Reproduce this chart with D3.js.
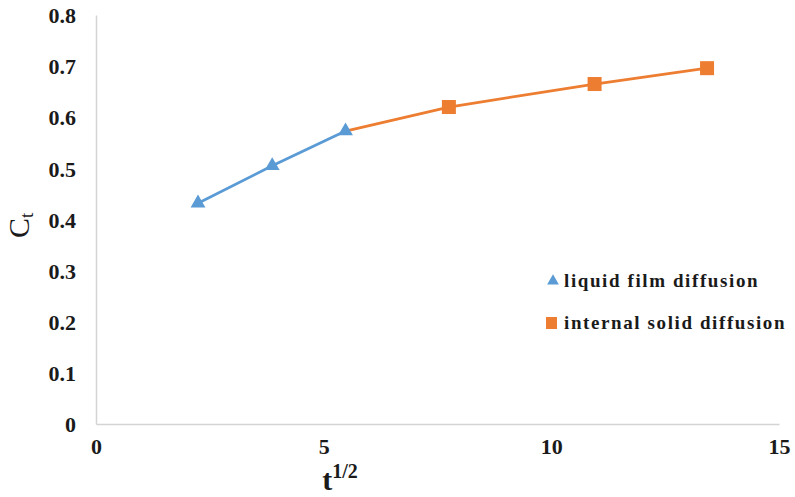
<!DOCTYPE html>
<html>
<head>
<meta charset="utf-8">
<script src="https://cdn.jsdelivr.net/npm/d3@7"></script>
<style>
body{margin:0;background:#fff;}
svg{display:block;}
</style>
</head>
<body>
<svg id="chart" width="795" height="497"></svg>
<script>
const liquidX = [2.24, 3.87, 5.48];
const liquidY = [0.432, 0.505, 0.573];
const solidX = [5.48, 7.75, 10.95, 13.42];
const solidY = [0.573, 0.62, 0.665, 0.696];
const solidMarkerFrom = 1; // first point of solid series has no marker
const xTicks = [0, 5, 10, 15];
const yTicks = [0, 0.1, 0.2, 0.3, 0.4, 0.5, 0.6, 0.7, 0.8];
const seriesNames = ["liquid film diffusion", "internal solid diffusion"];
const colors = ["#5b9bd5", "#ed7d31"];

const svg = d3.select("#chart");
const m = {left: 96, right: 779, top: 15, bottom: 424};
const x = d3.scaleLinear().domain([0, 15]).range([m.left, m.right]);
const y = d3.scaleLinear().domain([0, 0.8]).range([m.bottom, m.top]);
const font = "'Liberation Serif','Times New Roman',serif";

// axes
const xAxis = svg.append("g").attr("transform", `translate(0,${m.bottom})`)
  .call(d3.axisBottom(x).tickValues(xTicks).tickSize(0).tickPadding(14).tickFormat(d3.format("d")));
const yAxis = svg.append("g").attr("transform", `translate(${m.left},0)`)
  .call(d3.axisLeft(y).tickValues(yTicks).tickSize(0).tickPadding(20).tickFormat(d => d === 0 ? "0" : d3.format(".1f")(d)));
[xAxis, yAxis].forEach(g => {
  g.select(".domain").attr("stroke", "#d4d4d4").attr("stroke-width", 1.5);
  g.selectAll("text").attr("font-family", font).attr("font-weight", "bold")
    .attr("font-size", 22).attr("fill", "#1a1a1a");
});
yAxis.selectAll("text").attr("dy", "0.35em");

// lines
const line = d3.line().x(d => x(d[0])).y(d => y(d[1]));
const liquid = liquidX.map((v, i) => [v, liquidY[i]]);
const solid = solidX.map((v, i) => [v, solidY[i]]);
svg.append("path").datum(liquid).attr("d", line).attr("fill", "none")
  .attr("stroke", colors[0]).attr("stroke-width", 2.8);
svg.append("path").datum(solid).attr("d", line).attr("fill", "none")
  .attr("stroke", colors[1]).attr("stroke-width", 2.8);

const tri = d3.symbol().type(d3.symbolTriangle).size(95);
svg.selectAll(".tri").data(liquid).join("path")
  .attr("transform", d => `translate(${x(d[0])},${y(d[1])})`)
  .attr("d", tri).attr("fill", colors[0]);
svg.selectAll(".sq").data(solid.slice(solidMarkerFrom)).join("rect")
  .attr("x", d => x(d[0]) - 7).attr("y", d => y(d[1]) - 7)
  .attr("width", 14).attr("height", 14).attr("fill", colors[1]);

// legend
const leg = svg.append("g");
leg.append("path").attr("transform", "translate(553,281)")
  .attr("d", d3.symbol().type(d3.symbolTriangle).size(60)).attr("fill", colors[0]);
leg.append("rect").attr("x", 546).attr("y", 317).attr("width", 11).attr("height", 12).attr("fill", colors[1]);
leg.append("text").attr("x", 564).attr("y", 287).text(seriesNames[0]);
leg.append("text").attr("x", 564).attr("y", 329).text(seriesNames[1]);
leg.selectAll("text").attr("font-family", font).attr("font-weight", "bold")
  .attr("font-size", 19).attr("letter-spacing", 1.6).attr("fill", "#1a1a1a");

// axis titles
const xt = svg.append("text").attr("x", 340).attr("y", 490).attr("text-anchor", "middle")
  .attr("font-family", font).attr("font-weight", "bold").attr("fill", "#1a1a1a");
xt.append("tspan").attr("font-size", 30).text("t");
xt.append("tspan").attr("font-size", 20).attr("dy", -12).text("1/2");

const yt = svg.append("text").attr("transform", "translate(29,238) rotate(-90)")
  .attr("font-family", font).attr("fill", "#1a1a1a");
yt.append("tspan").attr("font-size", 30).text("C");
yt.append("tspan").attr("font-size", 19).attr("dy", 4).text("t");
</script>
</body>
</html>
